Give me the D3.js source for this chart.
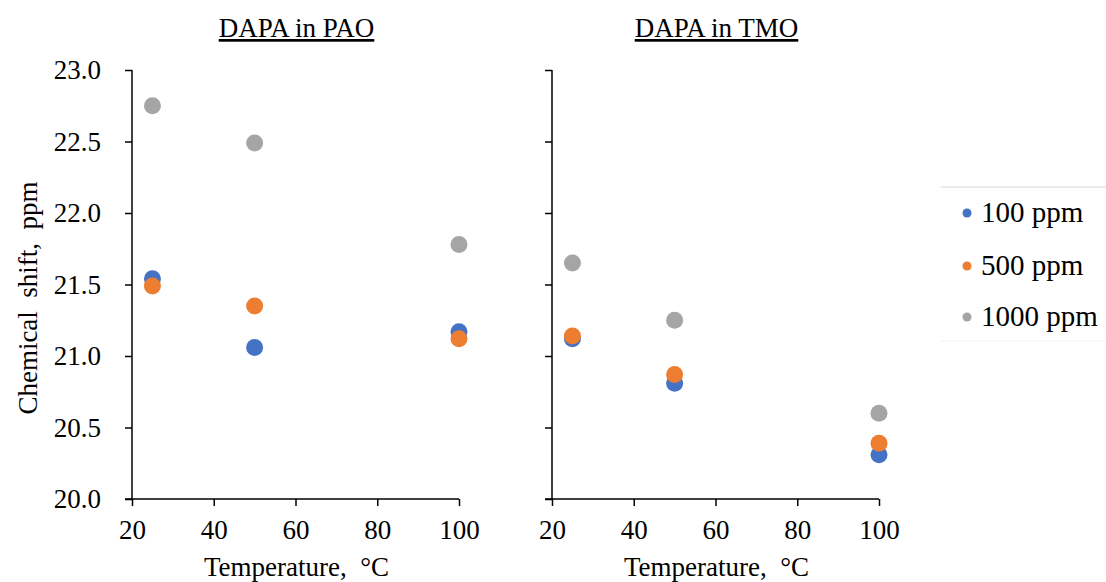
<!DOCTYPE html>
<html>
<head>
<meta charset="utf-8">
<script src="https://cdn.jsdelivr.net/npm/d3@7"></script>
<style>
  html, body { margin: 0; padding: 0; background: #fff; }
  text { font-family: "Liberation Serif", "Times New Roman", serif; fill: #000; }
</style>
</head>
<body>
<svg id="chart" width="1106" height="582"></svg>
<script>
// ---- Data ----
const temperatures = [25, 50, 100];
const seriesNames = ["100 ppm", "500 ppm", "1000 ppm"];
const seriesColors = ["#4472C4", "#ED7D31", "#A5A5A5"];
const panelTitles = ["DAPA in PAO", "DAPA in TMO"];
// PAO panel values (ppm) per series, aligned with temperatures
const pao100 = [21.54, 21.06, 21.17];
const pao500 = [21.49, 21.35, 21.12];
const pao1000 = [22.75, 22.49, 21.78];
// TMO panel values
const tmo100 = [21.12, 20.81, 20.31];
const tmo500 = [21.14, 20.87, 20.39];
const tmo1000 = [21.65, 21.25, 20.60];
const xTicks = [20, 40, 60, 80, 100];
const yTicks = [20.0, 20.5, 21.0, 21.5, 22.0, 22.5, 23.0];

const panels = [
  { title: panelTitles[0], series: [pao100, pao500, pao1000], x0: 132, x1: 459, labels: true },
  { title: panelTitles[1], series: [tmo100, tmo500, tmo1000], x0: 552, x1: 879, labels: false }
];

const FS = "27px";
const svg = d3.select("#chart");
const yTop = 70, yBot = 499;
const y = d3.scaleLinear().domain([20, 23]).range([yBot, yTop]);

panels.forEach(p => {
  const x = d3.scaleLinear().domain([20, 100]).range([p.x0, p.x1]);
  const g = svg.append("g");

  // x axis
  const xa = g.append("g").attr("transform", `translate(0,${yBot})`)
    .call(d3.axisBottom(x).tickValues(xTicks).tickSize(7).tickSizeOuter(0).tickPadding(14));
  xa.attr("font-family", null);
  xa.select(".domain").remove();
  xa.selectAll(".tick line").attr("stroke", "#000").attr("stroke-width", 1.5);
  xa.selectAll(".tick text").style("font-size", FS).style("font-family", "Liberation Serif");
  g.append("line").attr("x1", p.x0 - 7).attr("x2", p.x1).attr("y1", yBot).attr("y2", yBot)
    .attr("stroke", "#000").attr("stroke-width", 1.5);

  // y axis
  const ya = g.append("g").attr("transform", `translate(${p.x0},0)`)
    .call(d3.axisLeft(y).tickValues(yTicks).tickFormat(d3.format(".1f")).tickSize(7).tickSizeOuter(0).tickPadding(24));
  ya.attr("font-family", null);
  ya.select(".domain").remove();
  ya.selectAll(".tick line").attr("stroke", "#000").attr("stroke-width", 1.5);
  ya.selectAll(".tick text").style("font-size", FS).style("font-family", "Liberation Serif")
    .style("display", p.labels ? null : "none");
  g.append("line").attr("x1", p.x0).attr("x2", p.x0).attr("y1", yTop).attr("y2", yBot)
    .attr("stroke", "#000").attr("stroke-width", 1.5);

  // title
  const cx = (p.x0 + p.x1) / 2 + 1;
  g.append("text").attr("x", cx).attr("y", 37).attr("text-anchor", "middle")
    .style("font-size", FS).style("text-decoration", "underline").text(p.title);

  // x axis label
  g.append("text").attr("x", cx).attr("y", 576).attr("text-anchor", "middle")
    .style("font-size", FS).text("Temperature,\u00a0 \u00b0C");

  // points
  p.series.forEach((vals, si) => {
    g.selectAll(null).data(vals).enter().append("circle")
      .attr("cx", (d, i) => x(temperatures[i]))
      .attr("cy", d => y(d))
      .attr("r", 8.5)
      .attr("fill", seriesColors[si]);
  });
});

// y axis title
svg.append("text").attr("transform", "translate(37,298) rotate(-90)")
  .attr("text-anchor", "middle").style("font-size", FS).text("Chemical\u00a0 shift,\u00a0 ppm");

// legend
svg.append("line").attr("x1", 941).attr("x2", 1106).attr("y1", 187).attr("y2", 187)
  .attr("stroke", "#d9d9d9").attr("stroke-width", 1);
svg.append("line").attr("x1", 941).attr("x2", 1106).attr("y1", 341).attr("y2", 341)
  .attr("stroke", "#f2f2f2").attr("stroke-width", 1);
const legY = [213, 266, 317];
seriesNames.forEach((n, i) => {
  svg.append("circle").attr("cx", 967).attr("cy", legY[i]).attr("r", 4.5).attr("fill", seriesColors[i]);
  svg.append("text").attr("x", 981).attr("y", legY[i] + 9).style("font-size", "29px").text(n);
});
</script>
</body>
</html>
